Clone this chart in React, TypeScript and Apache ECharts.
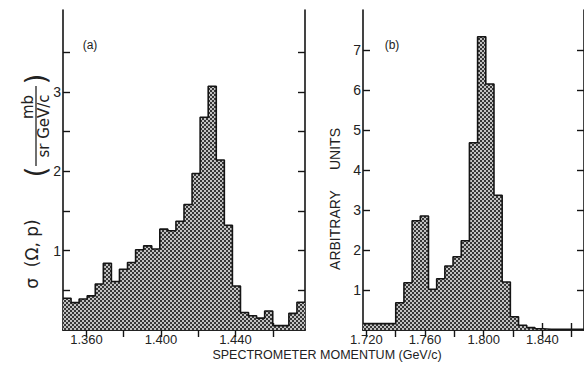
import React, { useEffect, useRef } from "react";
import * as echarts from "echarts";

// Panel (a): histogram bin heights (mb / sr GeV/c)
const valuesA = [
  0.40, 0.345, 0.39, 0.43, 0.58, 0.84, 0.61, 0.765, 0.85, 1.01,
  1.06, 1.02, 1.27, 1.25, 1.37, 1.58, 1.97, 2.68, 3.07, 2.14,
  1.32, 0.555, 0.22, 0.18, 0.15, 0.24, 0.055, 0.055, 0.21, 0.35,
];
const binStartA = 1.3474;
const binWidthA = 0.00433;

// Panel (b): histogram bin heights (arbitrary units)
const valuesB = [
  0.16, 0.16, 0.16, 0.16, 0.68, 1.18, 2.73, 2.85, 1.02, 1.28,
  1.6, 1.83, 2.23, 4.68, 7.33, 6.15, 3.37, 1.2, 0.33, 0.12,
  0.06, 0.03, 0.02, 0.02, 0.02, 0.02, 0.02,
];
const binStartB = 1.7177;
const binWidthB = 0.005582;

// Ticks and labels
const xTicksA = [1.36, 1.38, 1.4, 1.42, 1.44, 1.46];
const xLabelsA = [1.36, 1.4, 1.44];
const yTicksA = [0.5, 1, 1.5, 2, 2.5, 3, 3.5];
const yLabelsA = [1, 2, 3];
const xTicksB = [1.72, 1.74, 1.76, 1.78, 1.8, 1.82, 1.84, 1.86];
const xLabelsB = [1.72, 1.76, 1.8, 1.84];
const yTicksB = [1, 2, 3, 4, 5, 6, 7];
const yLabelsB = [1, 2, 3, 4, 5, 6, 7];

const xMinA = 1.3474;
const xMaxA = 1.4773;
const yMaxA = 4.03;
const xMinB = 1.7177;
const xMaxB = 1.8684;
const yMaxB = 8;

function toSteps(values: number[], start: number, width: number) {
  const pts: number[][] = values.map((v, i) => [start + i * width, v]);
  pts.push([start + values.length * width, values[values.length - 1]]);
  return pts;
}

const INK = "#151515";
const FONT = "Liberation Sans";

export default function App() {
  const ref = useRef<HTMLDivElement>(null);
  useEffect(() => {
    if (!ref.current) return;
    const chart = echarts.init(ref.current, undefined, { renderer: "svg" });

    const c = document.createElement("canvas");
    c.width = 4;
    c.height = 4;
    const ctx = c.getContext("2d")!;
    ctx.fillStyle = "#c2c2c2";
    ctx.fillRect(0, 0, 4, 4);
    ctx.fillStyle = "#363636";
    ctx.fillRect(0, 0, 2, 2);
    ctx.fillRect(2, 2, 2, 2);
    const pattern: any = { image: c, repeat: "repeat" };

    const axisLine = { show: true, lineStyle: { color: INK, width: 1.6 } };
    const label = (vals: number[], digits: number, margin: number, size: number) => ({
      show: true,
      customValues: vals,
      formatter: (v: number) => v.toFixed(digits),
      color: "#222",
      fontFamily: FONT,
      fontSize: size,
      margin,
    });
    const tick = (vals: number[], len = 7) => ({
      show: true,
      inside: true,
      length: len,
      customValues: vals,
      lineStyle: { color: INK, width: 1.4 },
    });
    const noLabel = { show: false };

    const grids = [
      { left: 63, top: 10, width: 242, height: 320 },
      { left: 363, top: 10, width: 222, height: 320 },
    ];

    const xAxis: any[] = [
      { type: "value", gridIndex: 0, position: "bottom", min: xMinA, max: xMaxA, axisLine, axisTick: tick(xTicksA), axisLabel: label(xLabelsA, 3, 3, 13), splitLine: { show: false } },
      { type: "value", gridIndex: 0, position: "top", min: xMinA, max: xMaxA, axisLine, axisTick: tick(xTicksA), axisLabel: noLabel, splitLine: { show: false } },
      { type: "value", gridIndex: 1, position: "bottom", min: xMinB, max: xMaxB, axisLine, axisTick: tick(xTicksB), axisLabel: label(xLabelsB, 3, 3, 13), splitLine: { show: false } },
      { type: "value", gridIndex: 1, position: "top", min: xMinB, max: xMaxB, axisLine, axisTick: tick(xTicksB), axisLabel: noLabel, splitLine: { show: false } },
    ];
    const yAxis: any[] = [
      { type: "value", gridIndex: 0, position: "left", min: 0, max: yMaxA, axisLine, axisTick: tick(yTicksA), axisLabel: label(yLabelsA, 0, 2, 14), splitLine: { show: false } },
      { type: "value", gridIndex: 0, position: "right", min: 0, max: yMaxA, axisLine, axisTick: tick(yTicksA), axisLabel: noLabel, splitLine: { show: false } },
      { type: "value", gridIndex: 1, position: "left", min: 0, max: yMaxB, axisLine, axisTick: tick(yTicksB), axisLabel: label(yLabelsB, 0, 2, 14), splitLine: { show: false } },
      { type: "value", gridIndex: 1, position: "right", min: 0, max: yMaxB, axisLine, axisTick: tick(yTicksB), axisLabel: noLabel, splitLine: { show: false } },
    ];

    const histSeries = (data: number[][], xi: number, yi: number) => ({
      type: "line",
      xAxisIndex: xi,
      yAxisIndex: yi,
      step: "end",
      data,
      symbol: "none",
      lineStyle: { color: INK, width: 1.6 },
      areaStyle: { color: pattern, opacity: 1 },
      z: 1,
    });

    const txt = (text: string, x: number, y: number, size: number, rot = 0, family = FONT) => ({
      type: "text",
      x,
      y,
      rotation: rot,
      style: {
        text,
        fill: "#222",
        fontFamily: family,
        fontSize: size,
        textAlign: "center",
        textVerticalAlign: "middle",
      },
    });

    chart.setOption({
      animation: false,
      backgroundColor: "#ffffff",
      grid: grids,
      xAxis,
      yAxis,
      series: [
        histSeries(toSteps(valuesA, binStartA, binWidthA), 0, 0),
        histSeries(toSteps(valuesB, binStartB, binWidthB), 2, 2),
      ],
      graphic: [
        txt("(a)", 90, 45, 12),
        txt("(b)", 392, 45, 12),
        txt("σ  (Ω, p)", 32, 254, 17, Math.PI / 2, "DejaVu Sans"),
        txt("mb", 28, 107, 15, Math.PI / 2, "DejaVu Sans"),
        {
          type: "line",
          shape: { x1: 36, y1: 86, x2: 36, y2: 166 },
          style: { stroke: "#222", lineWidth: 1.3 },
        },
        txt("sr GeV/c", 44, 126, 15, Math.PI / 2, "DejaVu Sans"),
        txt("(", 36, 172, 28, Math.PI / 2, "DejaVu Sans"),
        txt(")", 36, 79, 28, Math.PI / 2, "DejaVu Sans"),
        txt("UNITS", 335, 149, 14, Math.PI / 2),
        txt("ARBITRARY", 335, 230, 14, Math.PI / 2),
        txt("SPECTROMETER MOMENTUM (GeV/c)", 327, 355, 12.5),
      ],
    });
    return () => chart.dispose();
  }, []);
  return (
    <div
      ref={ref}
      style={{ position: "absolute", left: 0, top: 0, width: 584, height: 375 }}
    />
  );
}
